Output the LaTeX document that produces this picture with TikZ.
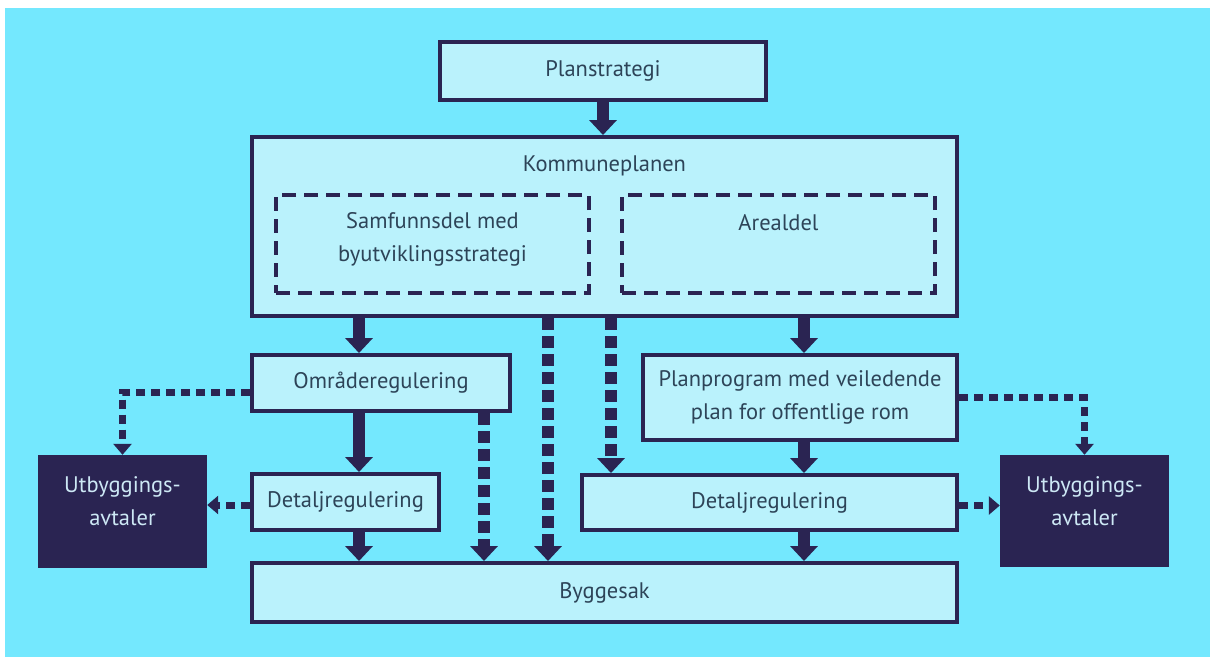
\documentclass[tikz,border=0pt]{standalone}
\usepackage{fontspec}
\setmainfont{PT Sans}
\usepackage{tikz}
\usetikzlibrary{arrows.meta}
\definecolor{bgcyan}{RGB}{116,232,254}
\definecolor{boxcyan}{RGB}{186,242,252}
\definecolor{navy}{RGB}{42,36,82}
\definecolor{textslate}{RGB}{45,68,88}
\definecolor{textpale}{RGB}{205,232,245}
\def\fs{\fontsize{22.5}{33}\selectfont}
\tikzset{plan box/.style={draw=navy,fill=boxcyan,line width=4pt,rectangle,inner sep=0,text=textslate,align=center,font=\fs}}
\tikzset{part box/.style={draw=navy,line width=4pt,dash pattern=on 14pt off 8pt,rectangle,inner sep=0}}
\tikzset{deal box/.style={fill=navy,rectangle,inner sep=0}}
\tikzset{plan label/.style={text=textslate,align=center,inner sep=0,font=\fs}}
\tikzset{deal label/.style={text=textpale,align=center,inner sep=0,font=\fs}}
\tikzset{flow/.style={draw=navy,line width=12pt,-{Triangle[width=27pt,length=15pt]}}}
\tikzset{maybe flow/.style={flow,dash pattern=on 12pt off 6pt}}
\tikzset{side flow/.style={draw=navy,line width=7pt,dash pattern=on 9pt off 6pt,-{Triangle[width=18pt,length=11pt]}}}

\begin{document}
\begin{tikzpicture}[x=1pt,y=-1pt]

      %bakgrunn
      \fill[white] (0,0) rectangle (1210,657);
      \fill[bgcyan] (5,8) rectangle (1210,657);
      \useasboundingbox (0,0) rectangle (1210,657);

      %Planstrategi og kommuneplanen
      \node[plan box, minimum width=326pt, minimum height=58pt] (plan) at (603,71) {Planstrategi};
      \node[plan box, minimum width=705pt, minimum height=179pt] (kp) at (604.5,226.5) {};
      \node[plan label] (kptitle) at (604.5,166) {Kommuneplanen};
      \node[part box, minimum width=313pt, minimum height=98pt] (samf) at (432.5,244) {};
      \node[plan label] (samftext) at (432.5,239) {Samfunnsdel med\\byutviklingsstrategi};
      \node[part box, minimum width=313pt, minimum height=98pt] (areal) at (778.5,244) {};
      \node[plan label] (arealtext) at (778.5,223) {Arealdel};

      %reguleringsplaner
      \node[plan box, minimum width=258pt, minimum height=56pt] (omr) at (381,383) {Områderegulering};
      \node[plan box, minimum width=314pt, minimum height=85pt] (prog) at (800,397.5) {Planprogram med veiledende\\plan for offentlige rom};
      \node[plan box, minimum width=187pt, minimum height=56pt] (detL) at (345.5,502) {Detaljregulering};
      \node[plan box, minimum width=375pt, minimum height=55pt] (detR) at (769.5,502.5) {Detaljregulering};
      \node[plan box, minimum width=705pt, minimum height=59pt] (bygg) at (604.5,592.5) {Byggesak};

      %utbyggingsavtaler
      \node[deal box, minimum width=169pt, minimum height=113pt] (utbL) at (122.5,511.5) {};
      \node[deal label] (utbLtext) at ([yshift=10pt]utbL.center) {Utbyggings-\\avtaler};
      \node[deal box, minimum width=169pt, minimum height=112pt] (utbR) at (1084.5,511) {};
      \node[deal label] (utbRtext) at ([yshift=10pt]utbR.center) {Utbyggings-\\avtaler};

      %piler
      \coordinate (colA) at (359,0);
      \coordinate (colB) at (484,0);
      \coordinate (colC) at (548,0);
      \coordinate (colD) at (611,0);
      \coordinate (colE) at (804,0);
      \draw[flow] (plan.south) -- (kp.north -| plan.south);
      \draw[flow] (kp.south -| colA) -- (omr.north -| colA);
      \draw[flow] (omr.south -| colA) -- (detL.north -| colA);
      \draw[flow] (detL.south -| colA) -- (bygg.north -| colA);
      \draw[maybe flow] (omr.south -| colB) -- (bygg.north -| colB);
      \draw[maybe flow] (kp.south -| colC) -- (bygg.north -| colC);
      \draw[maybe flow] (kp.south -| colD) -- (detR.north -| colD);
      \draw[flow] (kp.south -| colE) -- (prog.north -| colE);
      \draw[flow] (prog.south -| colE) -- (detR.north -| colE);
      \draw[flow] (detR.south -| colE) -- (bygg.north -| colE);

      %stiplede piler til avtalene
      \coordinate (omrside) at ([yshift=-9pt]omr.west);
      \coordinate (detLside) at ([yshift=-3pt]detL.west);
      \coordinate (detRside) at ([yshift=-3pt]detR.east);
      \draw[side flow] (omrside) -| (utbL.north);
      \draw[side flow] (detLside) -- (detLside -| utbL.east);
      \draw[side flow] (prog.east) -| (utbR.north);
      \draw[side flow] (detRside) -- (detRside -| utbR.west);

\end{tikzpicture}
\end{document}
